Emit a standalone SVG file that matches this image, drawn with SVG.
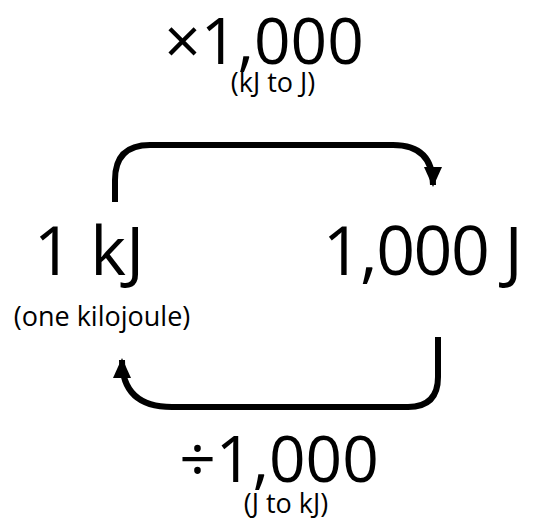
<svg xmlns="http://www.w3.org/2000/svg" width="547" height="530" viewBox="0 0 547 530">
<style>
text{font-family:"Open Sans","Noto Sans",sans-serif;fill:#000}
.big{font-size:64px}
.mid{font-size:68px}
.small{font-size:27px}
.arr{fill:none;stroke:#000;stroke-width:6}
</style>
<defs>
<marker id="ah" markerUnits="userSpaceOnUse" markerWidth="20" markerHeight="22" refX="18" refY="9" orient="auto">
<path d="M0,0 L20,9 L0,18 Z" fill="#000"/>
</marker>
</defs>
<rect width="547" height="530" fill="#fff"/>
<g id="connectors">
<path class="arr" d="M115,202 L115,180 Q115,145 150,145 L393,145 Q433,145 433,185" marker-end="url(#ah)"/>
<path class="arr" d="M438,337 L438,377 Q438,407 408,407 L172,407 Q122,407 122,360" marker-end="url(#ah)"/>
</g>
<g id="top-label">
<text class="big" x="264" y="64" text-anchor="middle">×1,000</text>
<text class="small" x="273" y="92" text-anchor="middle">(kJ to J)</text>
</g>
<g id="kj">
<text class="mid" x="89" y="275" text-anchor="middle">1 kJ</text>
<text class="small" x="102" y="326" text-anchor="middle">(one kilojoule)</text>
</g>
<g id="j">
<text class="mid" x="422" y="275" text-anchor="middle" letter-spacing="-1.5">1,000 J</text>
</g>
<g id="bottom-label">
<text class="big" x="279" y="482" text-anchor="middle">÷1,000</text>
<text class="small" x="286" y="513" text-anchor="middle">(J to kJ)</text>
</g>
</svg>
